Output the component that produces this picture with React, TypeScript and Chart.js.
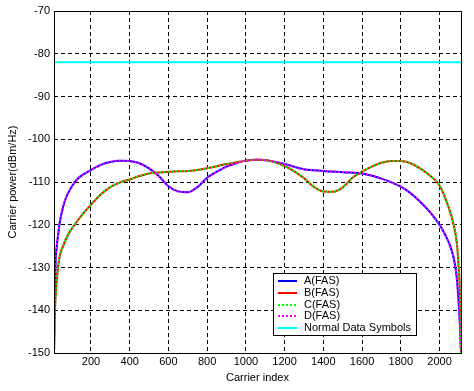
import React, { useEffect, useRef } from "react";
import { Chart, registerables } from "chart.js";

Chart.register(...registerables);

// ---- data ----
const aIndex = [9, 12, 15, 17, 21, 30, 38, 56, 70, 90, 120, 142, 200, 250, 300, 350, 400, 450, 500, 550, 600, 650, 700, 750, 800, 850, 900, 950, 1000, 1060, 1120, 1200, 1300, 1400, 1500, 1600, 1700, 1800, 1850, 1900, 1950, 2000, 2030, 2060, 2080, 2090, 2100, 2105, 2108, 2111];
const aPower = [-150, -140, -133, -129, -126, -122.5, -119.7, -115.8, -113.8, -111.9, -109.8, -108.8, -107.2, -106, -105.3, -105, -105.1, -105.6, -106.8, -108.6, -111, -112.2, -112.4, -111.2, -109, -107.6, -106.4, -105.6, -105, -104.8, -105, -105.8, -107, -107.4, -107.7, -108, -109.2, -111.1, -112.6, -114.6, -117, -120, -122.4, -125.6, -129.3, -132.8, -139, -143, -146, -150];

const bIndex = [9, 12, 15, 18, 30, 40, 56, 70, 90, 120, 150, 200, 250, 300, 350, 400, 450, 500, 550, 600, 650, 700, 750, 800, 850, 900, 950, 1000, 1060, 1120, 1200, 1250, 1300, 1350, 1400, 1450, 1500, 1550, 1600, 1650, 1700, 1750, 1800, 1850, 1900, 1950, 2000, 2040, 2073, 2090, 2099, 2105, 2108, 2110, 2111];
const bPower = [-150, -143, -139, -136, -129.8, -127, -125, -123.4, -121.7, -119.7, -117.9, -115.3, -112.9, -111.2, -110.1, -109.4, -108.6, -108, -107.8, -107.6, -107.5, -107.4, -107.2, -106.8, -106.3, -105.8, -105.4, -105, -104.8, -105, -106.3, -107.5, -109.1, -111.1, -112.2, -112.3, -111.3, -109, -107.6, -106.4, -105.5, -105.1, -105.1, -105.6, -106.8, -108.5, -110.8, -115, -120, -124.5, -130, -135, -140, -145, -150];

const normalIndex = [9, 2111];
const normalPower = [-82, -82];

const xTicks = [200, 400, 600, 800, 1000, 1200, 1400, 1600, 1800, 2000];
const yTicks = [-150, -140, -130, -120, -110, -100, -90, -80, -70];

const seriesLabels = ["A(FAS)", "B(FAS)", "C(FAS)", "D(FAS)", "Normal Data Symbols"];
const seriesColors = ["#0000ff", "#ff0000", "#00ff00", "#ff00ff", "#00ffff"];
const seriesDotted = [false, false, true, true, false];

const xTitle = "Carrier index";
const yTitle = "Carrier power(dBm/Hz)";

const FONT = "11px 'Liberation Sans', Arial, sans-serif";

const toPts = (xs: number[], ys: number[]) => xs.map((x, i) => ({ x, y: ys[i] }));

const decorPlugin = {
  id: "decor",
  afterDraw(chart: any) {
    const { ctx, chartArea } = chart;
    const { left, right, top, bottom } = chartArea;
    ctx.save();
    // frame
    ctx.strokeStyle = "#000";
    ctx.lineWidth = 1;
    ctx.setLineDash([]);
    ctx.strokeRect(Math.round(left) + 0.5, Math.round(top) + 0.5, Math.round(right - left), Math.round(bottom - top));

    // titles
    ctx.fillStyle = "#000";
    ctx.font = FONT;
    ctx.textAlign = "center";
    ctx.textBaseline = "middle";
    ctx.fillText(xTitle, (left + right) / 2, 378);
    ctx.save();
    ctx.translate(13, (top + bottom) / 2);
    ctx.rotate(-Math.PI / 2);
    ctx.fillText(yTitle, 0, 0);
    ctx.restore();

    // legend
    const bx = 273.5, by = 273.5, bw = 143, bh = 62;
    ctx.fillStyle = "#fff";
    ctx.fillRect(bx, by, bw, bh);
    ctx.strokeStyle = "#000";
    ctx.strokeRect(bx, by, bw, bh);
    ctx.textAlign = "left";
    ctx.textBaseline = "middle";
    seriesLabels.forEach((lab, i) => {
      const y = 281 + i * 11.8;
      ctx.strokeStyle = seriesColors[i];
      ctx.lineWidth = 2;
      ctx.setLineDash(seriesDotted[i] ? [2, 2] : []);
      ctx.beginPath();
      ctx.moveTo(278, Math.round(y));
      ctx.lineTo(297, Math.round(y));
      ctx.stroke();
      ctx.setLineDash([]);
      ctx.fillStyle = "#000";
      ctx.fillText(lab, 304, y);
    });
    ctx.restore();
  },
};

export default function App() {
  const ref = useRef<HTMLCanvasElement | null>(null);
  useEffect(() => {
    document.body.style.margin = "0";
    const mk = (i: number, data: any[]) => ({
      label: seriesLabels[i],
      data,
      borderColor: seriesColors[i],
      backgroundColor: seriesColors[i],
      borderWidth: 2,
      borderDash: seriesDotted[i] ? [2, 2] : [],
      pointRadius: 0,
      fill: false,
      order: 4 - i,
      cubicInterpolationMode: "monotone" as const,
    });
    const chart = new Chart(ref.current as HTMLCanvasElement, {
      type: "line",
      data: {
        datasets: [
          mk(0, toPts(aIndex, aPower)),
          mk(1, toPts(bIndex, bPower)),
          mk(2, toPts(bIndex, bPower)),
          mk(3, toPts(aIndex, aPower)),
          mk(4, toPts(normalIndex, normalPower)),
        ],
      },
      options: {
        animation: false,
        responsive: false,
        maintainAspectRatio: false,
        layout: { padding: { left: 0, top: 11, right: 13, bottom: 0 } },
        plugins: { legend: { display: false }, tooltip: { enabled: false } },
        scales: {
          x: {
            type: "linear",
            min: 9,
            max: 2111,
            afterBuildTicks: (s: any) => { s.ticks = xTicks.map((v) => ({ value: v })); },
            afterFit: (s: any) => { s.height = 38; },
            grid: { color: "#000", lineWidth: 1, drawTicks: false },
            border: { display: false, dash: [4, 3] },
            ticks: { color: "#000", font: { family: "'Liberation Sans', Arial, sans-serif", size: 11 }, padding: 2, maxRotation: 0, autoSkip: false, callback: (v: any) => String(v) },
          },
          y: {
            type: "linear",
            min: -150,
            max: -70,
            afterBuildTicks: (s: any) => { s.ticks = yTicks.map((v) => ({ value: v })); },
            afterFit: (s: any) => { s.width = 54; },
            grid: { color: "#000", lineWidth: 1, drawTicks: false },
            border: { display: false, dash: [4, 3] },
            ticks: { color: "#000", font: { family: "'Liberation Sans', Arial, sans-serif", size: 11 }, padding: 4, autoSkip: false, callback: (v: any) => String(v) },
          },
        },
      },
      plugins: [decorPlugin],
    });
    return () => chart.destroy();
  }, []);
  return (
    <div style={{ position: "absolute", left: 0, top: 0, width: 474, height: 391, background: "#fff" }}>
      <canvas ref={ref} width={474} height={391} style={{ display: "block" }} />
    </div>
  );
}
